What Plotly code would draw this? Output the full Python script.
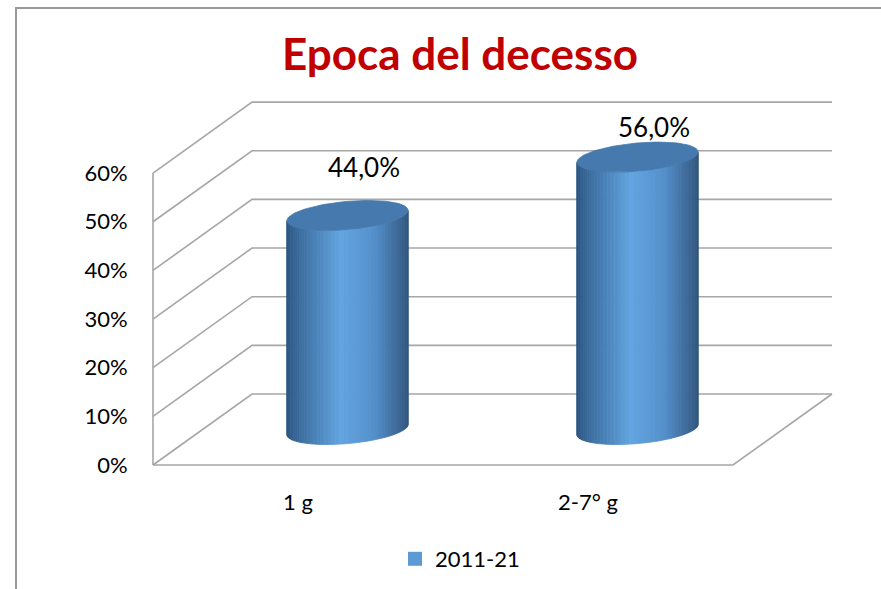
import numpy as np
import plotly.graph_objects as go

# ---------------- data ----------------
categories = ["1 g", "2-7° g"]
values = [0.44, 0.56]
value_labels = ["44,0%", "56,0%"]
series_name = "2011-21"
y_ticks = [0, 0.1, 0.2, 0.3, 0.4, 0.5, 0.6]
y_tick_labels = ["0%", "10%", "20%", "30%", "40%", "50%", "60%"]
chart_title = "Epoca del decesso"

# ---------------- style / geometry ----------------
FONT = "Lato, 'Open Sans', sans-serif"
GRID = "#a6a6a6"
DX, DY = 0.3414, 0.1459      # oblique depth vector in axis units
R, F = 0.196, 0.211          # cylinder radius (x units) and depth radius (fraction of depth)
N = 48                       # shading strips per cylinder
W, H = 881, 589
ML, MR, MT, MB = 143, 36, 90, 114
PX_X, PX_Y = 290.0, 486.5    # pixels per axis unit
label_dx, label_dy = 0.058, 0.08
label_yshift = [10, -9]

xs = list(range(len(categories)))
x_lo, x_hi = -0.5, len(categories) - 0.5
x_range = [x_lo - 10 / PX_X, x_lo - 10 / PX_X + (W - ML - MR) / PX_X]
y_range = [-10 / PX_Y, -10 / PX_Y + (H - MT - MB) / PX_Y]

fig = go.Figure()

# ---------------- 3D frame (walls + floor) ----------------
gx, gy = [], []
for v in y_ticks:
    gx += [x_lo, x_lo + DX, x_hi + DX, None]
    gy += [v, v + DY, v + DY, None]
gx += [x_lo, x_lo, None, x_lo, x_hi, x_hi + DX, None]
gy += [y_ticks[0], y_ticks[-1], None, 0, 0, DY, None]
fig.add_trace(go.Scatter(x=gx, y=gy, mode="lines", line=dict(color=GRID, width=1.6),
                         hoverinfo="skip", showlegend=False))

# ---------------- cylinders ----------------
stops = [(0.0, (44, 86, 130)), (0.12, (62, 112, 162)), (0.45, (99, 165, 224)),
         (0.72, (84, 144, 204)), (0.9, (64, 108, 156)), (1.0, (50, 88, 128))]


def shade(t):
    for (t0, c0), (t1, c1) in zip(stops[:-1], stops[1:]):
        if t0 <= t <= t1:
            a = (t - t0) / (t1 - t0)
            c = [round(c0[k] + a * (c1[k] - c0[k])) for k in range(3)]
            return "rgb(%d,%d,%d)" % tuple(c)
    return "rgb(%d,%d,%d)" % stops[-1][1]


theta_star = np.arctan(F * DX / R)
for i, v in zip(xs, values):
    cx = i + 0.5 * DX
    base = 0.5 * DY
    top = v + 0.5 * DY
    th = np.linspace(np.pi + theta_star, 2 * np.pi + theta_star, N + 1)
    ex = cx + R * np.cos(th) + F * DX * np.sin(th)
    ey = F * DY * np.sin(th)
    xl, xr = ex.min(), ex.max()
    for k in range(N):
        t = ((ex[k] + ex[k + 1]) / 2 - xl) / (xr - xl)
        col = shade(t)
        fig.add_trace(go.Scatter(
            x=[ex[k], ex[k + 1], ex[k + 1], ex[k], ex[k]],
            y=[base + ey[k], base + ey[k + 1], top + ey[k + 1], top + ey[k], base + ey[k]],
            mode="lines", fill="toself", fillcolor=col, line=dict(color=col, width=0.8),
            hoverinfo="skip", showlegend=False))
    tt = np.linspace(0, 2 * np.pi, 121)
    fig.add_trace(go.Scatter(
        x=cx + R * np.cos(tt) + F * DX * np.sin(tt),
        y=top + F * DY * np.sin(tt),
        mode="lines", fill="toself", fillcolor="#4679ad", line=dict(color="#4477aa", width=0.8),
        hoverinfo="skip", showlegend=False))

# legend entry
fig.add_trace(go.Scatter(x=[None], y=[None], mode="markers", name=series_name,
                         marker=dict(symbol="square", size=14, color="#5B9BD5")))

# value labels
for i, v, lab, ys in zip(xs, values, value_labels, label_yshift):
    fig.add_annotation(x=i + 0.5 * DX + label_dx, y=v + 0.5 * DY + label_dy, text=lab,
                       showarrow=False, yshift=ys, font=dict(family=FONT, size=26, color="#000000"))

# outer chart border
fig.add_shape(type="rect", xref="paper", yref="paper",
              x0=(16 - ML) / (W - ML - MR), x1=1.3,
              y0=(H - MB - 8) / (H - MT - MB), y1=-0.5,
              line=dict(color="#9a9a9a", width=2), fillcolor="rgba(0,0,0,0)", layer="below")

fig.update_layout(
    width=W, height=H, autosize=False,
    margin=dict(l=ML, r=MR, t=MT, b=MB, pad=0, autoexpand=False),
    paper_bgcolor="white", plot_bgcolor="white",
    title=dict(text="<b>%s</b>" % chart_title, x=460 / W, xanchor="center", y=1 - 55 / H, yanchor="middle",
               font=dict(family=FONT, size=44, color="#C00000")),
    xaxis=dict(range=x_range, tickvals=xs, ticktext=categories, showgrid=False, zeroline=False,
               showline=False, ticks="outside", ticklen=8, tickcolor="rgba(0,0,0,0)",
               tickfont=dict(family=FONT, size=22, color="#000000"), fixedrange=True),
    yaxis=dict(range=y_range, tickvals=y_ticks, ticktext=y_tick_labels, showgrid=False, zeroline=False,
               showline=False, ticks="outside", ticklen=10, tickcolor="rgba(0,0,0,0)",
               tickfont=dict(family=FONT, size=22, color="#000000"), fixedrange=True),
    showlegend=True,
    legend=dict(orientation="h", xref="container", yref="container",
                x=(417 - 22) / W, xanchor="left", y=1 - 559 / H, yanchor="middle",
                font=dict(family=FONT, size=22, color="#000000"), bgcolor="rgba(0,0,0,0)"),
)

fig.write_html("out.html", config={"displayModeBar": False},
               post_script="document.body.style.margin='0';")
